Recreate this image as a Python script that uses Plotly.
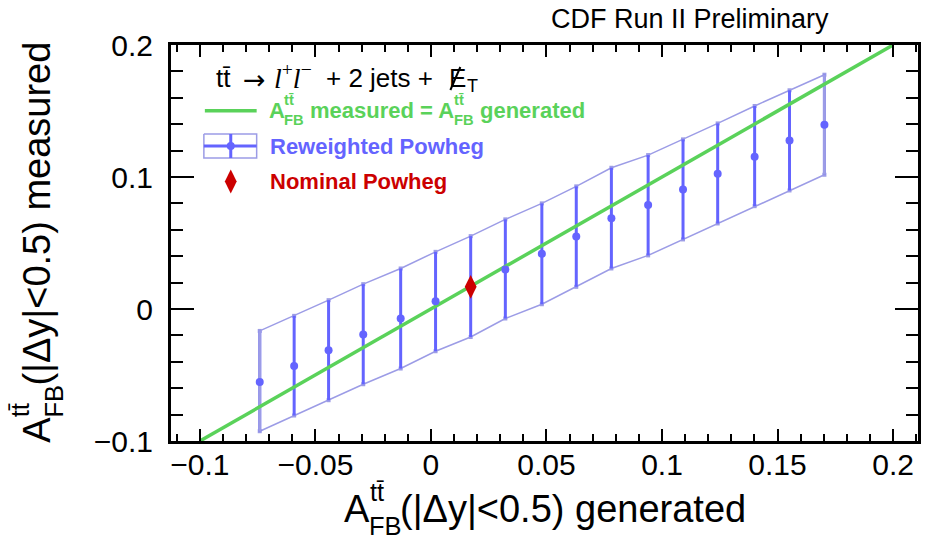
import unicodedata
import plotly.graph_objects as go

# Generated vs measured forward-backward asymmetry, |dy| < 0.5
gen_afb = [-0.0741, -0.0592, -0.0443, -0.0293, -0.0131, 0.0020, 0.0172, 0.0322, 0.0480,
           0.0629, 0.0781, 0.0940, 0.1091, 0.1241, 0.1401, 0.1552, 0.1703]
meas_afb = [-0.0553, -0.0431, -0.0312, -0.0193, -0.0072, 0.0059, 0.0168, 0.0299, 0.0418,
            0.0550, 0.0688, 0.0787, 0.0906, 0.1024, 0.1153, 0.1277, 0.1396]
meas_hi = [-0.0166, -0.0052, 0.0067, 0.0188, 0.0307, 0.0433, 0.0552, 0.0679, 0.0800,
           0.0929, 0.1070, 0.1166, 0.1285, 0.1406, 0.1538, 0.1657, 0.1775]
meas_lo = [-0.0926, -0.0807, -0.0691, -0.0570, -0.0451, -0.0320, -0.0212, -0.0072, 0.0036,
           0.0168, 0.0307, 0.0406, 0.0527, 0.0648, 0.0779, 0.0898, 0.1017]

nominal_gen = [0.0172]
nominal_meas = [0.0168]

diagonal = [-0.1, 0.2]

x_tickvals = [-0.1, -0.05, 0, 0.05, 0.1, 0.15, 0.2]
x_ticktext = ["\u22120.1", "\u22120.05", "0", "0.05", "0.1", "0.15", "0.2"]
y_tickvals = [-0.1, 0, 0.1, 0.2]
y_ticktext = ["\u22120.1", "0", "0.1", "0.2"]

BLUE = "#6464ff"
BAND = "#9c9ce6"
GREEN = "#5ad25a"
RED = "#cc0000"
FONT = "Liberation Sans, Arial, sans-serif"

# pixel geometry of the frame
L, R, T, B = 171, 921, 45, 441
W, H = 925, 540


def px_x(px):
    return (px - L) / (R - L)


def px_y(py):
    return (B - py) / (B - T)


err_up = [h - m for h, m in zip(meas_hi, meas_afb)]
err_dn = [m - l for m, l in zip(meas_afb, meas_lo)]

fig = go.Figure()

# band outline: upper and lower edges
for edge in (meas_hi, meas_lo):
    fig.add_trace(go.Scatter(
        x=gen_afb, y=edge, mode="lines+markers",
        line=dict(color=BAND, width=1.5),
        marker=dict(symbol="square", size=4, color=BAND), hoverinfo="skip"))

# error bars
fig.add_trace(go.Scatter(
    x=gen_afb, y=meas_afb, mode="markers",
    marker=dict(size=0.1, color=BLUE),
    error_y=dict(type="data", symmetric=False, array=err_up, arrayminus=err_dn,
                 color=BLUE, thickness=3, width=0)))

# closing edges of the band
for i in (0, len(gen_afb) - 1):
    fig.add_trace(go.Scatter(
        x=[gen_afb[i], gen_afb[i]], y=[meas_lo[i], meas_hi[i]], mode="lines",
        line=dict(color=BAND, width=3), hoverinfo="skip"))

# measured = generated
fig.add_trace(go.Scatter(
    x=diagonal, y=diagonal, mode="lines", line=dict(color=GREEN, width=3.5)))

# central values
fig.add_trace(go.Scatter(
    x=gen_afb, y=meas_afb, mode="markers",
    marker=dict(symbol="circle", size=8, color=BLUE)))

# nominal sample
fig.add_trace(go.Scatter(
    x=nominal_gen, y=nominal_meas, mode="markers",
    marker=dict(symbol="diamond-tall", size=17, color=RED)))

# ---------- legend keys drawn on a pixel overlay ----------
fig.add_trace(go.Scatter(
    x=[205, 257], y=[110.7, 110.7], xaxis="x2", yaxis="y2", mode="lines",
    line=dict(color=GREEN, width=3.5), hoverinfo="skip"))
fig.add_trace(go.Scatter(
    x=[204, 257, 257, 204, 204], y=[134, 134, 158, 158, 134], xaxis="x2", yaxis="y2",
    mode="lines", line=dict(color=BAND, width=1.5), hoverinfo="skip"))
fig.add_trace(go.Scatter(
    x=[204, 257], y=[146, 146], xaxis="x2", yaxis="y2", mode="lines",
    line=dict(color=BLUE, width=3), hoverinfo="skip"))
fig.add_trace(go.Scatter(
    x=[231, 231], y=[134, 158], xaxis="x2", yaxis="y2", mode="lines",
    line=dict(color=BLUE, width=3), hoverinfo="skip"))
fig.add_trace(go.Scatter(
    x=[231], y=[146], xaxis="x2", yaxis="y2", mode="markers",
    marker=dict(symbol="circle", size=8, color=BLUE), hoverinfo="skip"))
fig.add_trace(go.Scatter(
    x=[231], y=[181.5], xaxis="x2", yaxis="y2", mode="markers",
    marker=dict(symbol="diamond-tall", size=17, color=RED), hoverinfo="skip"))
# slash of the missing-ET symbol
fig.add_trace(go.Scatter(
    x=[451.5, 461.5], y=[90, 67], xaxis="x2", yaxis="y2", mode="lines",
    line=dict(color="black", width=2), hoverinfo="skip"))

# ---------- text with stacked super/subscripts ----------
REG = {' ': 278, '(': 333, ')': 333, '|': 260, '<': 584, '=': 584, '+': 584, '.': 278,
       'A': 667, 'B': 667, 'F': 611, 'T': 611, '\u0394': 612, 'a': 556, 'd': 556,
       'e': 556, 'g': 556, 'm': 833, 'n': 556, 'r': 333, 's': 500, 't': 278, 'u': 556,
       'y': 500}
BOLD = {' ': 278, '=': 584, 'A': 722, 'B': 722, 'F': 611, 'a': 556, 'd': 611, 'e': 556,
        'g': 611, 'm': 889, 'n': 611, 'r': 389, 's': 556, 't': 333, 'u': 611}


def text_width(s, size, bold=False):
    table = BOLD if bold else REG
    tot = 0
    for ch in s:
        if unicodedata.combining(ch):
            continue
        tot += table.get(ch, 556)
    return tot * size / 1000.0


annotations = []


def label(txt, px, py, size, color="black", xanchor="center", angle=0, family=FONT):
    annotations.append(dict(
        text=txt, x=px_x(px), y=px_y(py), xref="paper", yref="paper",
        xanchor=xanchor, yanchor="middle", showarrow=False, borderpad=0,
        textangle=angle, font=dict(family=family, size=size, color=color)))


def rich_width(segments, size, bold=False):
    small = 0.67 * size
    w = 0
    for seg in segments:
        if isinstance(seg, tuple):
            w += max(text_width(seg[0], small, bold), text_width(seg[1], small, bold))
        else:
            w += text_width(seg, size, bold)
    return w


def rich(segments, start, center, size, bold=False, color="black", vertical=False):
    small = 0.67 * size
    pos = 0.0
    sign = -1 if vertical else 1

    def put(txt, offset, w, perp, sz):
        along = start + sign * (offset + w / 2)
        if bold:
            txt = "<b>" + txt + "</b>"
        if vertical:
            label(txt, center + perp, along, sz, color, angle=-90)
        else:
            label(txt, along, center + perp, sz, color)

    for seg in segments:
        if isinstance(seg, tuple):
            sup, sub = seg
            wsup = text_width(sup, small, bold)
            wsub = text_width(sub, small, bold)
            put(sup, pos, wsup, -0.44 * size, small)
            put(sub, pos, wsub, 0.44 * size, small)
            pos += max(wsup, wsub)
        else:
            stripped = seg.strip()
            lead = len(seg) - len(seg.lstrip())
            wl = text_width(" " * lead, size, bold)
            ws = text_width(stripped, size, bold)
            put(stripped, pos + wl, ws, 0, size)
            pos += text_width(seg, size, bold)


TT = "tt\u0304"
AX = 38
xtitle = ["A", (TT, "FB"), "(|\u0394y|<0.5) generated"]
ytitle = ["A", (TT, "FB"), "(|\u0394y|<0.5) measured"]
xw = rich_width(xtitle, AX)
yw = rich_width(ytitle, AX)
rich(xtitle, (L + R) / 2 - xw / 2, 509, AX)
rich(ytitle, (T + B) / 2 + yw / 2, 37, AX, vertical=True)

# legend texts
rich(["A", (TT, "FB"), " measured = A", (TT, "FB"), " generated"], 269, 110, 22,
     bold=True, color=GREEN)
label("<b>Reweighted Powheg</b>", 269, 146, 22, BLUE, xanchor="left")
label("<b>Nominal Powheg</b>", 269, 181, 22, RED, xanchor="left")

# legend header: tt -> l+l- + 2 jets + missing ET
label(TT, 215, 78, 26, xanchor="left")
label("\u2192", 255, 79, 27, family="DejaVu Sans")
label('<i>l</i><sup>+</sup><i>l</i><sup>\u2212</sup>', 293, 76, 28,
      family="Liberation Serif")
label("+ 2 jets +", 326, 78, 26, xanchor="left")
label("E", 449, 78, 26, xanchor="left")
label("T", 467, 86, 18, xanchor="left")

label("CDF Run II Preliminary", 833, 19, 27, xanchor="right")

axis_common = dict(
    showline=True, linecolor="black", linewidth=3, mirror="allticks",
    ticks="inside", tickcolor="black", tickwidth=2, showgrid=False, zeroline=False,
    tickfont=dict(family=FONT, size=30, color="black"))

fig.update_layout(
    width=W, height=H,
    margin=dict(l=L, r=W - R, t=T, b=H - B, pad=0),
    paper_bgcolor="white", plot_bgcolor="white",
    showlegend=False,
    xaxis=dict(range=[-0.1125, 0.2108], tickmode="array", tickvals=x_tickvals,
               ticktext=x_ticktext, ticklen=12, ticklabelstandoff=-5,
               minor=dict(tickmode="linear", tick0=0, dtick=0.01, ticklen=7,
                          tickwidth=2, ticks="inside", tickcolor="black"),
               **axis_common),
    yaxis=dict(range=[-0.1, 0.2], tickmode="array", tickvals=y_tickvals,
               ticktext=y_ticktext, ticklen=23, ticklabelstandoff=9,
               minor=dict(tickmode="linear", tick0=0, dtick=0.02, ticklen=12,
                          tickwidth=2, ticks="inside", tickcolor="black"),
               **axis_common),
    xaxis2=dict(range=[L, R], overlaying="x", visible=False, fixedrange=True),
    yaxis2=dict(range=[B, T], overlaying="y", visible=False, fixedrange=True),
    annotations=annotations,
)

fig.write_html("out.html")
